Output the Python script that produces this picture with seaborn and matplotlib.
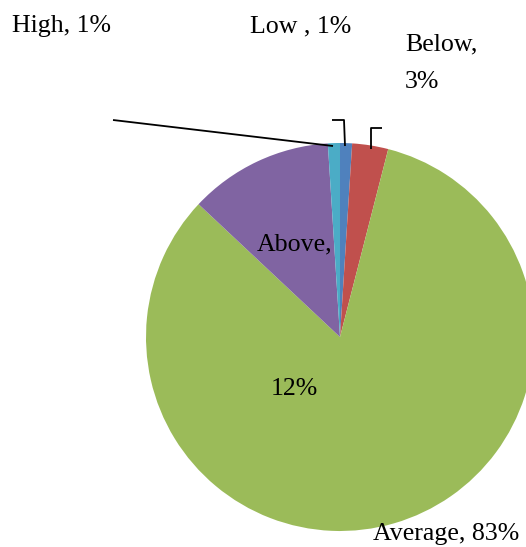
import matplotlib
matplotlib.use("Agg")
import matplotlib.pyplot as plt
import seaborn as sns

sns.set_theme(style="white")
plt.rcParams["font.family"] = ["Liberation Serif", "DejaVu Serif"]

# Share of responses per rating band, drawn clockwise from 12 o'clock
categories = ["Low", "Below", "Average", "Above", "High"]
shares = [1, 3, 83, 12, 1]
colors = ["#4F81BD", "#C0504D", "#9BBB59", "#8064A2", "#4BACC6"]

W, H = 526, 547
fig = plt.figure(figsize=(W / 100, H / 100), dpi=100)
ax = fig.add_axes([0, 0, 1, 1])

cx, cy, r = 340, H - 337, 194
ax.pie(shares, colors=colors, startangle=90, counterclock=False,
       center=(cx, cy), radius=r, frame=True,
       wedgeprops=dict(linewidth=0))
ax.set_xlim(0, W)
ax.set_ylim(0, H)
ax.set_aspect("equal")
ax.axis("off")

fs = 18.6
def label(x, y_base, s):
    ax.text(x, H - y_base, s, fontsize=fs, ha="left", va="baseline", color="black")

label(12, 32, f"{categories[4]}, {shares[4]}%")
label(250, 32, f"{categories[0]} , {shares[0]}%")
label(405, 50, f"{categories[1]},")
label(405, 88, f"{shares[1]}%")
label(257, 250, f"{categories[3]},")
label(271, 395, f"{shares[3]}%")
label(373, 540, f"{categories[2]}, {shares[2]}%")

# leader lines from labels to the thin slices
lk = dict(color="black", linewidth=1.3, solid_capstyle="butt")
ax.plot([113, 333], [H - 120, H - 146], **lk)
ax.plot([332, 344, 345], [H - 120, H - 120, H - 146], **lk)
ax.plot([382, 371, 371], [H - 128, H - 128, H - 149], **lk)

fig.savefig("out.png", dpi=100)
